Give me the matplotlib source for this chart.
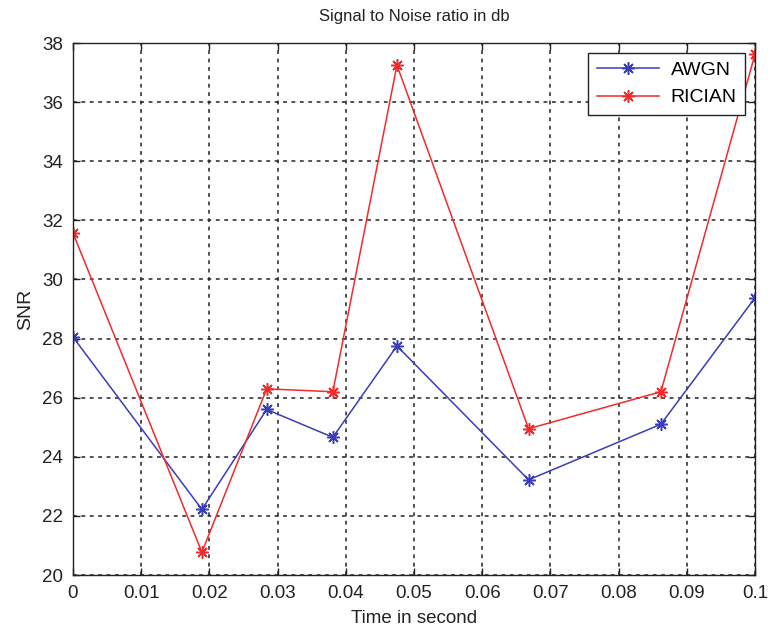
import matplotlib
matplotlib.use("Agg")
import matplotlib.pyplot as plt

plt.rcParams['font.family'] = ['Liberation Sans', 'DejaVu Sans']

# Время (с) и значения SNR (дБ)
time_s = [0, 0.0189, 0.0284, 0.0381, 0.0475, 0.0668, 0.0862, 0.1]
snr_awgn = [28.05, 22.22, 25.6, 24.66, 27.75, 23.22, 25.1, 29.38]
snr_rician = [31.57, 20.77, 26.3, 26.2, 37.25, 24.95, 26.2, 37.62]

x_ticks = [0, 0.01, 0.02, 0.03, 0.04, 0.05, 0.06, 0.07, 0.08, 0.09, 0.1]
x_tick_labels = ['0', '0.01', '0.02', '0.03', '0.04', '0.05', '0.06', '0.07', '0.08', '0.09', '0.1']
y_ticks = [20, 22, 24, 26, 28, 30, 32, 34, 36, 38]

fig = plt.figure(figsize=(7.69, 6.33), dpi=100)
ax = fig.add_axes([73 / 769, 1 - 575 / 633, (755 - 73) / 769, (575 - 43) / 633])

asterisk = (8, 2, 0)
ax.plot(time_s, snr_awgn, color='#3a3db8', lw=1.1, marker=asterisk, ms=9, mew=1.1, label='AWGN')
ax.plot(time_s, snr_rician, color='#f42a2a', lw=1.1, marker=asterisk, ms=9, mew=1.1, label='RICIAN')

ax.set_xlim(0, 0.1)
ax.set_ylim(20, 38)
ax.set_xticks(x_ticks)
ax.set_xticklabels(x_tick_labels)
ax.set_yticks(y_ticks)
ax.tick_params(direction='in', length=5, width=1, top=True, right=True, labelsize=13.5,
               colors='#222222', pad=7)
for s in ax.spines.values():
    s.set_linewidth(1)
    s.set_color('#222222')

ax.grid(True, color='#222222', linestyle=(0, (2.5, 3)), linewidth=1.1)

ax.set_title('Signal to Noise ratio in db', fontsize=12, pad=16, color='#222222')
ax.set_xlabel('Time in second', fontsize=13.5, labelpad=6, color='#222222')
ax.set_ylabel('SNR', fontsize=14, labelpad=6, color='#222222')

leg = ax.legend(loc='upper right', fontsize=14, fancybox=False, framealpha=1,
                edgecolor='#222222', handlelength=3.2, borderaxespad=0.5,
                borderpad=0.45, labelspacing=0.5, handletextpad=0.6)
leg.get_frame().set_linewidth(1)

fig.savefig('out.png', dpi=100)
